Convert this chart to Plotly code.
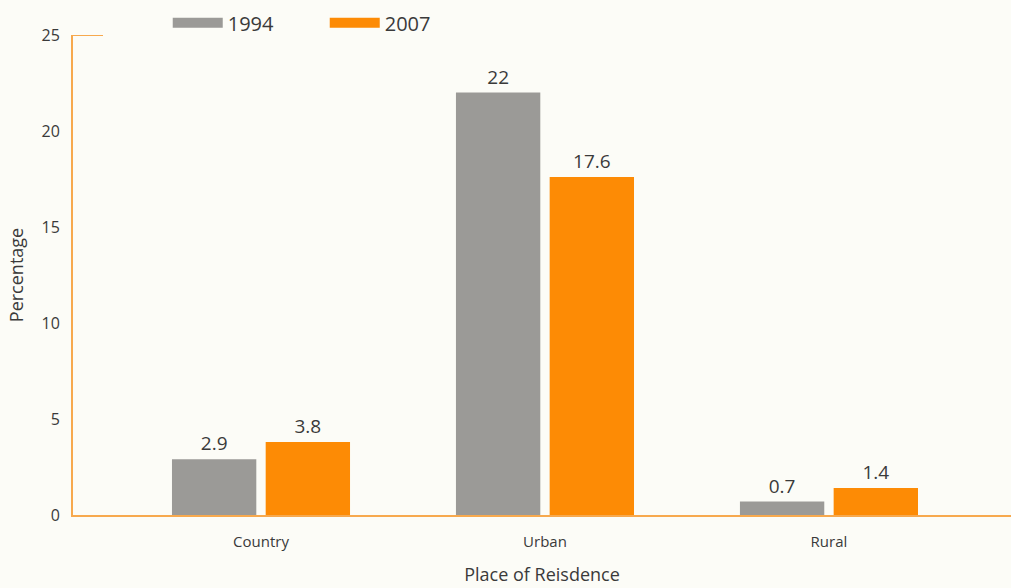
import plotly.graph_objects as go

categories = ["Country", "Urban", "Rural"]
values_1994 = [2.9, 22, 0.7]
values_2007 = [3.8, 17.6, 1.4]
series_names = ["1994", "2007"]
y_ticks = [0, 5, 10, 15, 20, 25]

GREY = "#9b9a97"
ORANGE = "#fd8b05"
AXIS = "#f7a94e"
TEXT = "#3a3a3a"
FONT = "Open Sans"
BG = "#fcfcf7"

def fmt(v):
    return f"{v:g}"

fig = go.Figure()
for name, vals, col in [(series_names[0], values_1994, GREY), (series_names[1], values_2007, ORANGE)]:
    fig.add_trace(go.Bar(
        x=categories, y=vals, name=name, showlegend=False, legendgroup=name,
        marker=dict(color=col, line=dict(width=0)),
        text=[fmt(v) for v in vals], textposition="outside",
        textfont=dict(size=19, color=TEXT, family=FONT), cliponaxis=False,
    ))
# legend-only entries (wide swatches like the original)
for name, col in [(series_names[0], GREY), (series_names[1], ORANGE)]:
    fig.add_trace(go.Scatter(
        x=[None], y=[None], mode="lines", name=name, legendgroup=name,
        line=dict(color=col, width=14), showlegend=True,
    ))

fig.update_layout(
    width=1011, height=588,
    margin=dict(l=73, r=0, t=35, b=73, autoexpand=False),
    paper_bgcolor=BG, plot_bgcolor=BG,
    font=dict(family=FONT, color=TEXT),
    barmode="group", bargap=0.34, bargroupgap=0.1,
    showlegend=True,
    legend=dict(
        orientation="h", x=0.101, xanchor="left", y=1.066, yanchor="top",
        font=dict(size=20, color=TEXT), bgcolor="rgba(0,0,0,0)",
        itemsizing="trace", itemwidth=50, entrywidth=92, traceorder="normal",
    ),
    xaxis=dict(
        range=[-0.662, 2.641], showgrid=False, zeroline=False,
        showline=True, linecolor=AXIS, linewidth=2,
        ticks="", tickfont=dict(size=15, color=TEXT), ticklabelstandoff=12,
        title=dict(text="Place of Reisdence", font=dict(size=18, color=TEXT), standoff=18),
    ),
    yaxis=dict(
        range=[0, 25], tickvals=y_ticks, showgrid=False, zeroline=False,
        showline=True, linecolor=AXIS, linewidth=2,
        ticks="", tickfont=dict(size=16, color=TEXT), ticklabelstandoff=8,
        title=dict(text="Percentage", font=dict(size=18, color=TEXT), standoff=13),
    ),
)

fig.add_shape(type="line", xref="paper", yref="y", x0=0, x1=0.032, y0=25, y1=25,
              line=dict(color=AXIS, width=2))

fig.write_html(
    "out.html",
    config={"displayModeBar": False},
    post_script="document.body.style.margin='0';document.body.style.background='" + BG + "';",
)
